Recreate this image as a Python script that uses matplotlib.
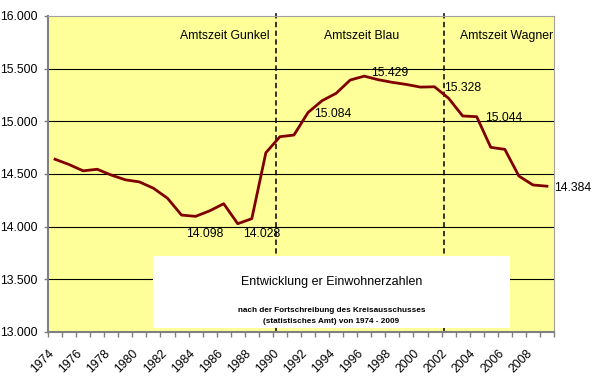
import matplotlib
matplotlib.use("Agg")
import matplotlib.pyplot as plt
from matplotlib.patches import Rectangle
from matplotlib.transforms import ScaledTranslation

plt.rcParams['font.family'] = ['Liberation Sans', 'DejaVu Sans']

years = list(range(1974, 2010))
population = [14640, 14590, 14530, 14545, 14490, 14445, 14425, 14365, 14270, 14110,
              14098, 14150, 14218, 14028, 14076, 14702, 14854, 14870, 15084, 15196,
              15266, 15392, 15429, 15395, 15370, 15350, 15325, 15328, 15219, 15051,
              15044, 14753, 14734, 14481, 14396, 14384]

# labelled points: year -> label offset in pixels (dx, dy)
label_years = [1984, 1987, 1992, 1996, 2001, 2004, 2009]
label_offsets = [(9, -17.5), (24, -10.5), (25, -1.5), (26, 3.5), (28, -1.5), (27, -1.5), (26, -1.5)]

term_bounds = [1989.71, 2001.64]
term_names = ["Amtszeit Gunkel", "Amtszeit Blau", "Amtszeit Wagner"]
term_label_x = [225, 362, 507]  # pixel centres

yticks = [13000, 13500, 14000, 14500, 15000, 15500, 16000]

def de(v):
    return f"{v:,}".replace(",", ".")

W, H = 600, 377
FS = 8.8
fig = plt.figure(figsize=(6, 3.77), dpi=100)
ax = fig.add_axes([48 / W, 1 - 332 / H, (554 - 48) / W, (332 - 16) / H])
ax.set_facecolor("#FFFF99")

ax.set_xlim(1973.5, 2009.5)
ax.set_ylim(13000, 16000)

for y in yticks[1:-1]:
    ax.axhline(y, color="black", lw=0.8, zorder=1)

ax.plot(years, population, color="#800000", lw=2.0, zorder=3, solid_joinstyle="round")

for yr, (dx, dy) in zip(label_years, label_offsets):
    v = population[years.index(yr)]
    ax.annotate(de(v), xy=(yr, v), xytext=(dx, dy), textcoords="offset pixels",
                ha="center", va="center", fontsize=FS, zorder=4, annotation_clip=False)

for xb in term_bounds:
    ax.plot([xb, xb], [13000, 16038], color="black", lw=1.1, linestyle=(0, (3.5, 2.2)),
            clip_on=False, zorder=2)

for name, px in zip(term_names, term_label_x):
    fig.text(px / W, 1 - 36 / H, name, ha="center", va="center", fontsize=FS)

# white info box
box = Rectangle(((153 - 48) / 506, (332 - 328) / 316), (510 - 153) / 506, (328 - 256) / 316,
                transform=ax.transAxes, facecolor="white", edgecolor="none", zorder=5)
ax.add_patch(box)
fig.text(331.5 / W, 1 - 282.5 / H, "Entwicklung er Einwohnerzahlen", ha="center", va="center",
         fontsize=9, zorder=6)
fig.text(331.5 / W, 1 - 310.5 / H, "nach der Fortschreibung des Kreisausschusses",
         ha="center", va="center", fontsize=5.9, fontweight="bold", zorder=6)
fig.text(331.5 / W, 1 - 321.5 / H, "(statistisches Amt) von 1974 - 2009",
         ha="center", va="center", fontsize=5.9, fontweight="bold", zorder=6)

# axes styling
for s in ["top", "right"]:
    ax.spines[s].set_color("#A0A0A0")
    ax.spines[s].set_linewidth(0.8)
for s in ["left", "bottom"]:
    ax.spines[s].set_color("#808080")
    ax.spines[s].set_linewidth(1.5)

ax.set_yticks(yticks)
ax.set_yticklabels([de(v) for v in yticks], fontsize=FS)
ax.tick_params(axis="y", direction="out", length=3, width=1, color="#808080", pad=4.5)

ax.set_xticks(years[::2])
ax.set_xticklabels([str(y) for y in years[::2]], fontsize=FS, rotation=45,
                   ha="right", va="top", rotation_mode="anchor")
ax.tick_params(axis="x", which="major", length=0, pad=11)
ax.set_xticks([1973.5 + k for k in range(37)], minor=True)
ax.tick_params(axis="x", which="minor", direction="out", length=3.5, width=1, color="#808080")
for lbl in ax.get_xticklabels():
    lbl.set_transform(lbl.get_transform() + ScaledTranslation(-5 / 72, 0, fig.dpi_scale_trans))

fig.savefig("out.png", dpi=100)
